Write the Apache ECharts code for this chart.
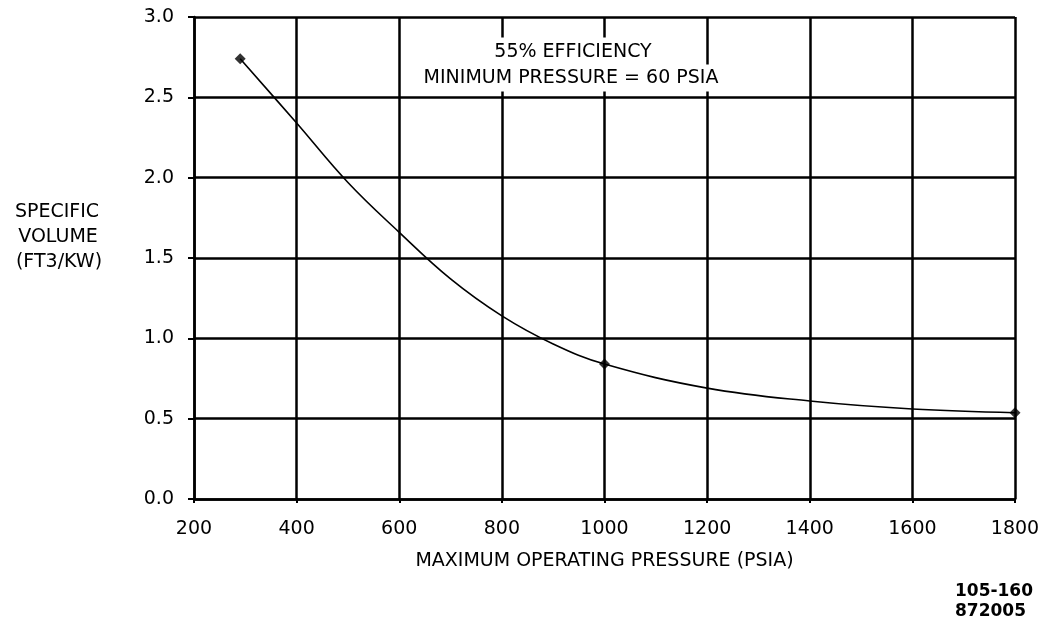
<!DOCTYPE html>
<html>
<head>
<meta charset="utf-8">
<script src="https://cdn.jsdelivr.net/npm/echarts@6/dist/echarts.min.js"></script>
<style>
html,body{margin:0;padding:0;background:#fff;}
#chart{width:1051px;height:623px;}
</style>
</head>
<body>
<div id="chart"></div>
<script>
// Data
var xTicks = [200, 400, 600, 800, 1000, 1200, 1400, 1600, 1800];
var yTicks = [0.0, 0.5, 1.0, 1.5, 2.0, 2.5, 3.0];
var curvePressure = [290, 400, 500, 600, 700, 800, 900, 1000, 1200, 1400, 1600, 1800];
var curveVolume   = [2.74, 2.34, 1.97, 1.66, 1.37, 1.14, 0.965, 0.84, 0.69, 0.61, 0.56, 0.537];
var pointPressure = [290, 1000, 1800];
var pointVolume   = [2.74, 0.84, 0.537];
var xName = 'MAXIMUM OPERATING PRESSURE (PSIA)';
var yNameLines = ['SPECIFIC', 'VOLUME', '(FT3/KW)'];
var noteLines = ['55% EFFICIENCY', 'MINIMUM PRESSURE = 60 PSIA'];
var codeLines = ['105-160', '872005'];

var curveData = curvePressure.map(function (p, i) { return [p, curveVolume[i]]; });
var pointData = pointPressure.map(function (p, i) { return [p, pointVolume[i]]; });

var font = 'DejaVu Sans';
var chart = echarts.init(document.getElementById('chart'), null, {renderer: 'canvas'});
chart.setOption({
  backgroundColor: '#ffffff',
  animation: false,
  grid: {left: 194, right: 36, top: 17, bottom: 124, containLabel: false},
  xAxis: {
    type: 'value',
    min: xTicks[0], max: xTicks[xTicks.length - 1], interval: 200,
    name: xName,
    nameLocation: 'middle',
    nameGap: 53,
    nameTextStyle: {fontFamily: font, fontSize: 19, color: '#000', verticalAlign: 'top'},
    axisLine: {show: true, lineStyle: {color: '#000', width: 2.5}},
    axisTick: {show: true, length: 4, lineStyle: {color: '#000', width: 2}},
    axisLabel: {margin: 21, fontFamily: font, fontSize: 19, color: '#000',
      formatter: function (v) { return String(v); }},
    splitLine: {show: true, lineStyle: {color: '#000', width: 2.5}}
  },
  yAxis: {
    type: 'value',
    min: yTicks[0], max: yTicks[yTicks.length - 1], interval: 0.5,
    axisLine: {show: true, lineStyle: {color: '#000', width: 2.5}},
    axisTick: {show: true, length: 6, lineStyle: {color: '#000', width: 2}},
    axisLabel: {margin: 20, fontFamily: font, fontSize: 19, color: '#000',
      formatter: function (v) { return v.toFixed(1); }},
    splitLine: {show: true, lineStyle: {color: '#000', width: 2.5}}
  },
  graphic: [
    {type: 'text', x: 57, y: 212, style: {text: yNameLines[0], fontFamily: font, fontSize: 19, fill: '#000', align: 'center', verticalAlign: 'middle'}},
    {type: 'text', x: 58, y: 237, style: {text: yNameLines[1], fontFamily: font, fontSize: 19, fill: '#000', align: 'center', verticalAlign: 'middle'}},
    {type: 'text', x: 59, y: 262, style: {text: yNameLines[2], fontFamily: font, fontSize: 19, fill: '#000', align: 'center', verticalAlign: 'middle'}},
    {type: 'text', x: 573, y: 52, z: 10, style: {text: noteLines[0], fontFamily: font, fontSize: 19, fill: '#000', align: 'center', verticalAlign: 'middle', backgroundColor: '#fff', padding: [7, 3, 3, 3]}},
    {type: 'text', x: 571, y: 78, z: 10, style: {text: noteLines[1], fontFamily: font, fontSize: 19, fill: '#000', align: 'center', verticalAlign: 'middle', backgroundColor: '#fff', padding: [3, 3, 5, 3]}},
    {type: 'text', x: 955, y: 592, style: {text: codeLines[0], fontFamily: font, fontWeight: 'bold', fontSize: 17, fill: '#000', align: 'left', verticalAlign: 'middle'}},
    {type: 'text', x: 955, y: 612, style: {text: codeLines[1], fontFamily: font, fontWeight: 'bold', fontSize: 17, fill: '#000', align: 'left', verticalAlign: 'middle'}}
  ],
  series: [
    {
      type: 'line',
      data: curveData,
      smooth: 0.4,
      showSymbol: false,
      lineStyle: {color: '#000', width: 1.6},
      z: 3
    },
    {
      type: 'scatter',
      data: pointData,
      symbol: 'diamond',
      symbolSize: 11,
      itemStyle: {color: '#000'},
      z: 4
    }
  ]
});
</script>
</body>
</html>
